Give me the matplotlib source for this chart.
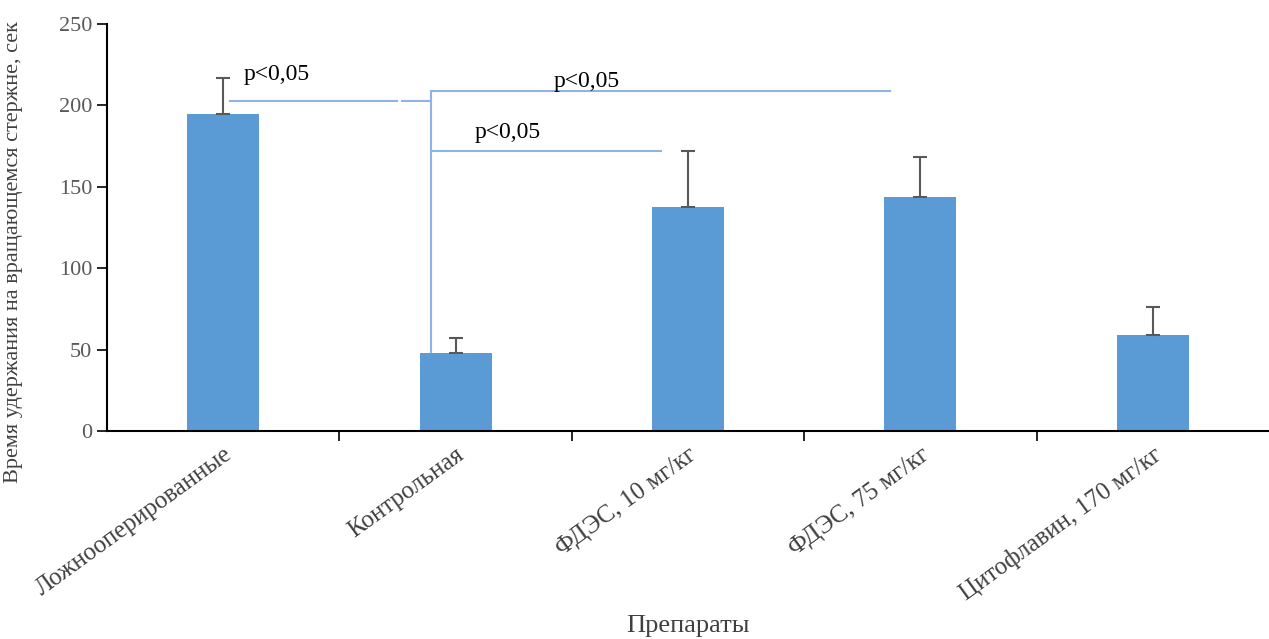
import numpy as np
import matplotlib
matplotlib.use('Agg')
import matplotlib.pyplot as plt

categories = ['Ложнооперированные', 'Контрольная', 'ФДЭС, 10 мг/кг',
              'ФДЭС, 75 мг/кг', 'Цитофлавин, 170 мг/кг']
values = [195, 48, 137.5, 143.5, 59]
errors = [22, 9, 34.5, 25, 17]
y_ticks = [0, 50, 100, 150, 200, 250]

plt.rcParams['font.family'] = ['Liberation Serif', 'DejaVu Serif']

fig = plt.figure(figsize=(12.69, 6.39), dpi=100)
ax = fig.add_axes([0.0843, 0.3255, 0.9157, 0.637])

x = np.arange(len(categories))
ax.bar(x, values, width=0.31, color='#5B9BD5', zorder=2)
ax.errorbar(x, values, yerr=[np.zeros(len(errors)), errors], fmt='none',
            ecolor='#595959', elinewidth=1.5, capsize=5, capthick=1.5, zorder=3)

# significance brackets
lc = '#8DB4E2'
ax.plot([0.03, 0.75], [202.5, 202.5], color=lc, lw=1.5, zorder=1)
ax.plot([0.77, 0.895], [202.5, 202.5], color=lc, lw=1.5, zorder=1)
ax.plot([0.895, 0.895], [values[1], 209], color=lc, lw=1.5, zorder=1)
ax.plot([0.895, 2.87], [209, 209], color=lc, lw=1.5, zorder=1)
ax.plot([0.895, 1.885], [172, 172], color=lc, lw=1.5, zorder=1)
ax.text(0.09, 219, 'p<0,05', fontsize=17, color='black', va='center')
ax.text(1.42, 214.5, 'p<0,05', fontsize=17, color='black', va='center')
ax.text(1.08, 183.5, 'p<0,05', fontsize=17, color='black', va='center')

ax.set_xlim(-0.5, 4.5)
ax.set_ylim(0, 250)
ax.set_yticks(y_ticks)
ax.tick_params(axis='y', labelsize=16, labelcolor='#595959', color='black',
               length=7, width=1.2, direction='out')

ax.set_xticks(x)
ax.set_xticklabels(categories, rotation=36, ha='right', rotation_mode='anchor',
                   fontsize=18, color='#404040')
ax.tick_params(axis='x', length=0, pad=9)
ax.set_xticks(np.arange(0.5, 4.5, 1), minor=True)
ax.tick_params(axis='x', which='minor', length=7, width=1.2, direction='out', color='black')

ax.spines['top'].set_visible(False)
ax.spines['right'].set_visible(False)
ax.spines['left'].set_linewidth(1.5)
ax.spines['bottom'].set_linewidth(1.5)

ax.set_ylabel('Время удержания на вращающемся стержне, сек', fontsize=16, color='#404040')
ax.yaxis.set_label_coords(-0.072, 0.44)
fig.text(0.542, 0.02, 'Препараты', fontsize=19, color='#404040', ha='center', va='center')

fig.savefig('out.png', dpi=100)
